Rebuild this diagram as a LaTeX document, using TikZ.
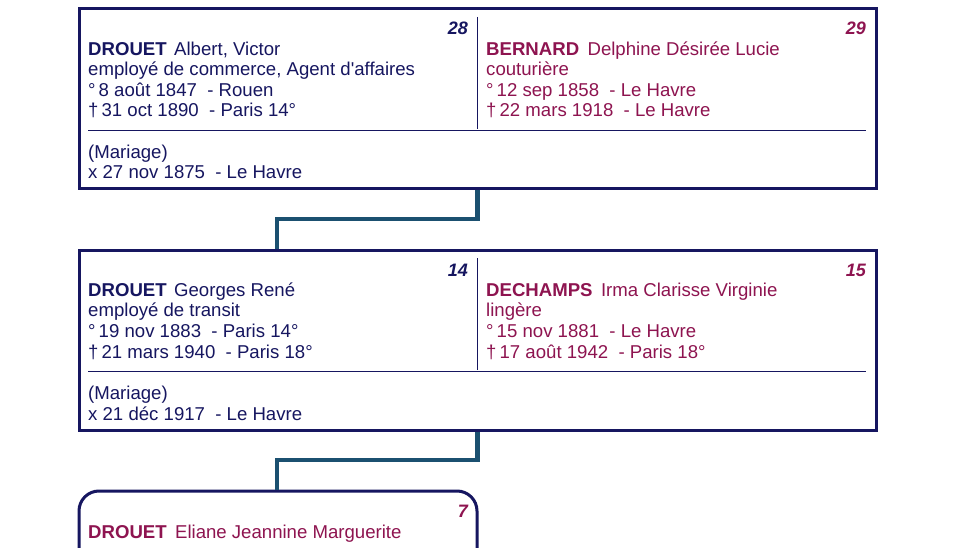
\documentclass[tikz,border=0pt]{standalone}
\usepackage{fontspec}
\setmainfont{Liberation Sans}
\definecolor{navy}{HTML}{161660}
\definecolor{fem}{HTML}{8E1450}
\definecolor{linkc}{HTML}{1B5070}
\tikzset{
  couplebox/.style={draw=navy, line width=3pt, fill=white, minimum width=797pt, minimum height=180pt, inner sep=0pt},
  childbox/.style={draw=navy, line width=3pt, fill=white, rounded corners=20pt, minimum width=398pt, minimum height=120pt, inner sep=0pt},
  person/.style={anchor=base west, align=left, inner sep=0pt, font=\fontsize{18.6}{20.6}\selectfont},
  num/.style={anchor=base east, inner sep=0pt, font=\fontsize{18}{20}\selectfont\bfseries\itshape},
  sep/.style={draw=navy, line width=0.9pt},
  linkline/.style={draw=linkc, line width=4.5pt},
}
\begin{document}
\begin{tikzpicture}[x=1pt,y=-1pt]
\clip (0,0) rectangle (969,548);
\fill[white] (0,0) rectangle (969,548);

\coordinate (k1) at (277,219);
\coordinate (k2) at (277,460);

% generation 28/29 (base anchor = last line of each block)
\node[couplebox] (c1) at (477.5,99) {};
\draw[sep] (477,17) -- (477,129);
\draw[sep] (88,130) -- (866,130);
\node[num, text=navy] (n28) at (468,35) {28};
\node[num, text=fem] (n29) at (866,35) {29};
\node[person, text=navy] (p28) at (88,117) {\textbf{DROUET}\hspace{0.4em}Albert, Victor\\employé de commerce, Agent d\textquotesingle affaires\\°\,8 août 1847\ \ - Rouen\\†\,31 oct 1890\ \ - Paris 14°};
\node[person, text=fem] (p29) at (486,117) {\textbf{BERNARD}\hspace{0.45em}Delphine Désirée Lucie\\couturière\\°\,12 sep 1858\ \ - Le Havre\\†\,22 mars 1918\ \ - Le Havre};
\node[person, text=navy] (m1) at (88,179) {(Mariage)\\x 27 nov 1875\ \ - Le Havre};

% generation 14/15
\node[couplebox] (c2) at (477.5,340) {};
\draw[sep] (477,258) -- (477,370);
\draw[sep] (88,371) -- (866,371);
\node[num, text=navy] (n14) at (468,276) {14};
\node[num, text=fem] (n15) at (866,276) {15};
\node[person, text=navy] (p14) at (88,358) {\textbf{DROUET}\hspace{0.4em}Georges René\\employé de transit\\°\,19 nov 1883\ \ - Paris 14°\\†\,21 mars 1940\ \ - Paris 18°};
\node[person, text=fem] (p15) at (486,358) {\textbf{DECHAMPS}\hspace{0.45em}Irma Clarisse Virginie\\lingère\\°\,15 nov 1881\ \ - Le Havre\\†\,17 août 1942\ \ - Paris 18°};
\node[person, text=navy] (m2) at (88,420) {(Mariage)\\x 21 déc 1917\ \ - Le Havre};

% generation 7
\node[childbox] (c3) at (278,551) {};
\node[num, text=fem] (n7) at (468,517) {7};
\node[person, text=fem] (p7) at (88,538) {\textbf{DROUET}\hspace{0.45em}Eliane Jeannine Marguerite};

% links
\draw[linkline] (c1.south) |- (k1) -- (k1 |- c2.north);
\draw[linkline] (c2.south) |- (k2) -- (k2 |- c3.north);
\end{tikzpicture}
\end{document}
